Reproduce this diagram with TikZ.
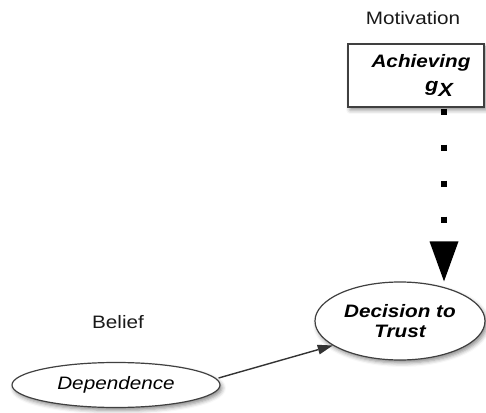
\documentclass[tikz,border=0pt]{standalone}
\usepackage{fontspec}
\setmainfont{Liberation Sans}[FakeStretch=1.15]
\usetikzlibrary{arrows.meta,calc,shapes.geometric,shadows.blur}
\begin{document}
\begin{tikzpicture}[x=1pt,y=1pt,
  softshadow/.style={blur shadow={shadow xshift=2pt,shadow yshift=-3pt,
      shadow blur radius=4pt,shadow opacity=45}},
  label/.style={font=\fontsize{18}{20}\selectfont,text=black!90},
  goalbox/.style={draw=black!75,line width=1.2pt,fill=white,softshadow,
      minimum width=136pt,minimum height=63pt,inner sep=0pt,align=center,
      font=\fontsize{18}{21}\selectfont\bfseries\itshape},
  ovalnode/.style={ellipse,draw=black!75,line width=1.2pt,fill=white,
      softshadow,inner sep=0pt,align=center},
  dotlink/.style={line width=6pt,dash pattern=on 6pt off 30pt,dash phase=35pt,
      -{Triangle[length=40pt,width=29pt,line width=0pt]}},
  thinlink/.style={line width=1.4pt,draw=black!80,
      -{Triangle[length=15pt,width=10pt,line width=0pt]}}]
\useasboundingbox (0,0) rectangle (486,412);

% headings
\node[label] (motiv) at (413,394) {Motivation};
\node[label] (belief) at (118,90) {Belief};

% goal box and the two ovals
\node[goalbox] (goal) at (416,336.5)
  {\hspace*{10pt}Achieving\\[3pt]\hspace*{46pt}\fontsize{19}{21}\selectfont g\lower5pt\hbox{X}};
\node[ovalnode,minimum width=170pt,minimum height=78pt,
  font=\fontsize{18}{20}\selectfont\bfseries\itshape] (dec) at (400,91)
  {Decision to\\Trust};
\node[ovalnode,minimum width=208pt,minimum height=45pt,
  font=\fontsize{18}{20}\selectfont\itshape] (dep) at (116,27) {Dependence};

% connectors
\coordinate (dotstart) at ($(goal.south)+(28pt,0)$);
\coordinate (dotend) at ($(dec.north)+(44pt,0)$);
\coordinate (depout) at ($(dep.east)+(-2pt,7pt)$);
\draw[dotlink] (dotstart) -- (dotend);
\draw[thinlink] (depout) -- (dec.200);
\end{tikzpicture}
\end{document}
